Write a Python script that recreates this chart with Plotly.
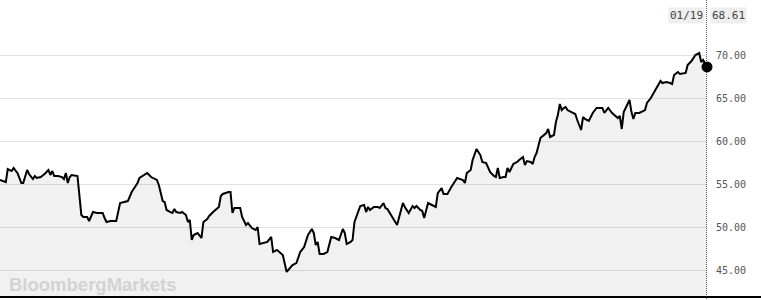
import pandas as pd
import plotly.graph_objects as go

# Days since 2017-01-19 and price (USD/bbl)
start_date = "2017-01-19"
days = [0, 3, 4, 6, 7, 9, 11, 12, 14, 15, 17, 18, 19, 21, 23, 25, 26, 27, 28, 30,
        32, 33, 34, 35, 36, 37, 40, 41, 42, 43, 45, 46, 48, 50, 53, 54, 55, 57, 60, 62,
        64, 66, 68, 71, 72, 76, 78, 81, 82, 84, 85, 86, 88, 89, 90, 91, 93, 94, 96, 97,
        98, 99, 100, 102, 104, 105, 107, 108, 110, 112, 113, 114, 115, 118, 119, 120, 121, 123, 124, 125,
        127, 128, 130, 132, 133, 134, 136, 138, 140, 141, 143, 145, 146, 148, 150, 151, 153, 155, 157, 159,
        161, 162, 163, 164, 165, 167, 169, 171, 173, 175, 177, 178, 179, 181, 182, 183, 186, 188, 189, 190,
        191, 193, 195, 196, 198, 199, 200, 203, 204, 205, 208, 209, 211, 213, 214, 215, 217, 218, 219, 221,
        223, 225, 226, 228, 229, 231, 233, 235, 236, 239, 240, 241, 243, 244, 246, 248, 249, 251, 253, 255,
        256, 257, 258, 260, 261, 262, 263, 265, 267, 268, 270, 271, 272, 274, 275, 276, 277, 279, 280, 282,
        283, 284, 286, 287, 288, 289, 290, 291, 292, 293, 295, 297, 298, 300, 301, 302, 304, 306, 308, 311,
        312, 314, 316, 318, 319, 320, 321, 322, 324, 325, 326, 327, 328, 330, 333, 334, 336, 338, 340, 341,
        342, 344, 346, 347, 348, 350, 351, 354, 355, 357, 359, 361, 362, 363, 365]
prices = [55.47, 55.23, 56.74, 56.51, 56.86, 56.28, 55.12, 55.12, 56.63, 56.16, 55.58, 55.93, 55.70, 55.81, 56.16, 56.63, 56.05, 56.51, 55.93, 55.93,
          55.81, 55.58, 56.28, 55.12, 55.81, 56.05, 55.93, 53.14, 51.40, 51.16, 51.16, 50.70, 51.74, 51.63, 51.63, 51.05, 50.58, 50.70, 50.70, 52.79,
          52.91, 53.02, 54.07, 55.12, 55.70, 56.28, 55.81, 55.47, 54.88, 53.02, 52.91, 51.98, 51.74, 51.63, 52.09, 51.74, 51.63, 51.74, 51.40, 50.58,
          50.81, 48.49, 49.07, 49.30, 48.72, 50.58, 50.93, 51.28, 51.74, 52.21, 52.33, 53.60, 53.84, 54.07, 54.07, 51.63, 52.21, 52.21, 52.21, 51.16,
          50.23, 50.47, 49.88, 49.65, 50.00, 48.02, 48.14, 48.26, 48.84, 47.09, 47.33, 46.98, 46.74, 44.77, 45.35, 45.58, 45.81, 47.09, 47.67, 49.07,
          49.77, 49.30, 47.91, 48.26, 46.86, 46.86, 47.09, 48.84, 48.72, 48.49, 49.77, 49.30, 48.02, 48.26, 48.49, 50.58, 52.44, 52.56, 51.74, 52.33,
          51.98, 52.33, 52.33, 52.21, 52.79, 52.21, 52.09, 51.05, 50.70, 50.23, 52.79, 52.33, 51.63, 52.44, 52.21, 52.44, 51.98, 51.86, 51.05, 52.79,
          52.56, 52.33, 53.95, 54.53, 53.84, 53.84, 54.65, 55.47, 55.70, 55.47, 55.12, 56.28, 56.63, 57.79, 59.07, 58.37, 57.56, 57.44, 56.40, 55.93,
          55.81, 56.86, 55.70, 55.81, 55.81, 56.86, 56.40, 57.33, 57.56, 57.79, 58.14, 57.21, 57.67, 57.56, 57.33, 58.14, 58.60, 60.35, 60.58, 60.93,
          61.40, 60.47, 60.70, 62.21, 63.02, 64.30, 63.60, 63.84, 63.95, 63.60, 63.37, 63.14, 62.44, 61.28, 62.79, 62.56, 62.33, 63.26, 63.84, 63.84,
          63.26, 63.84, 63.26, 62.91, 62.67, 62.91, 61.40, 63.37, 64.19, 64.77, 63.37, 62.56, 63.26, 63.26, 63.60, 64.42, 65.00, 65.81, 66.74, 66.98,
          66.74, 66.86, 66.74, 66.63, 67.67, 68.02, 67.79, 67.91, 68.84, 69.30, 70.00, 70.23, 69.19, 69.42, 68.61]

y_ticks = [45, 50, 55, 60, 65, 70]
y_tick_labels = ["45.00", "50.00", "55.00", "60.00", "65.00", "70.00"]
last_date_label = "01/19"
last_price_label = "68.61"
logo_text = "BloombergMarkets"

dates = pd.Timestamp(start_date) + pd.to_timedelta(days, unit="D")

W, H = 761, 300
ML, MR, MT, MB = 0, 54, 0, 3
plot_w = W - ML - MR
plot_h = H - MT - MB

fig = go.Figure()
fig.add_trace(go.Scatter(
    x=dates, y=prices, mode="lines",
    line=dict(color="#000000", width=2),
    fill="tozeroy", fillcolor="rgba(0,0,0,0.055)",
    hoverinfo="skip", showlegend=False,
))
fig.add_trace(go.Scatter(
    x=[dates[-1]], y=[prices[-1]], mode="markers",
    marker=dict(color="#000000", size=11),
    hoverinfo="skip", showlegend=False, cliponaxis=False,
))

# crosshair at last point
fig.add_shape(type="line", xref="x", yref="paper",
              x0=dates[-1], x1=dates[-1], y0=-0.02, y1=1,
              line=dict(color="#000000", width=1.2, dash="1px,1px"))
# bottom rule across the full width
fig.add_shape(type="line", xref="paper", yref="paper",
              x0=0, x1=W / plot_w, y0=0, y1=0,
              line=dict(color="#000000", width=2))

mono = "DejaVu Sans Mono"
fig.add_annotation(x=dates[-1], y=1 - 16 / plot_h, xref="x", yref="paper",
                   text=last_date_label, showarrow=False, xanchor="right", yanchor="middle",
                   xshift=-2, bgcolor="#eeeeee", borderpad=1,
                   font=dict(family=mono, size=11, color="#444444"))
fig.add_annotation(x=dates[-1], y=1 - 16 / plot_h, xref="x", yref="paper",
                   text=last_price_label, showarrow=False, xanchor="left", yanchor="middle",
                   xshift=3, bgcolor="#eeeeee", borderpad=1,
                   font=dict(family=mono, size=11, color="#444444"))
fig.add_annotation(x=7 / plot_w, y=(plot_h - 284) / plot_h, xref="paper", yref="paper",
                   text="<b>" + logo_text + "</b>", showarrow=False,
                   xanchor="left", yanchor="middle",
                   font=dict(family="Liberation Sans", size=18.5, color="#d3d3d3"))

fig.update_layout(
    width=W, height=H,
    margin=dict(l=ML, r=MR, t=MT, b=MB, pad=0),
    paper_bgcolor="#ffffff", plot_bgcolor="#ffffff",
    xaxis=dict(range=[dates[0], dates[-1]], visible=False, showgrid=False),
    yaxis=dict(range=[41.86, 76.40], side="right",
               tickvals=y_ticks, ticktext=y_tick_labels,
               showgrid=True, gridcolor="#e2e2e2", gridwidth=1,
               zeroline=False, showline=False,
               ticks="outside", ticklen=6, tickcolor="rgba(0,0,0,0)",
               tickfont=dict(family=mono, size=10, color="#555555")),
)

fig.write_html("out.html")
